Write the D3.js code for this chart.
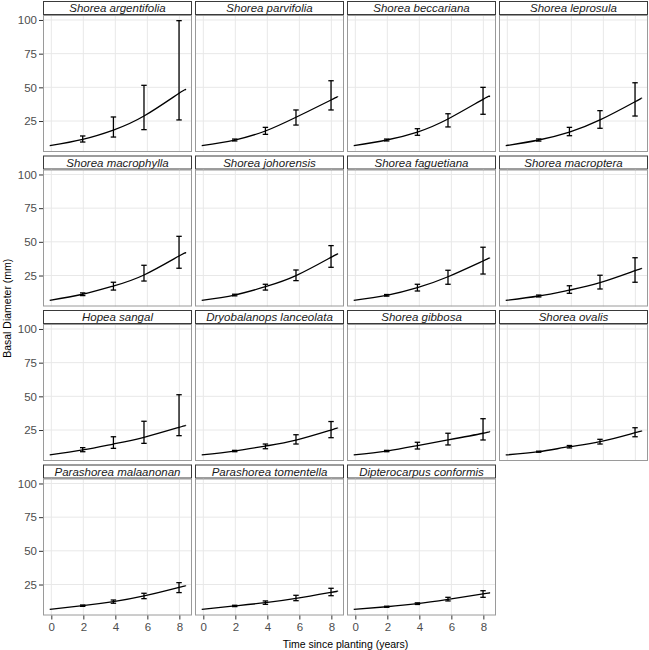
<!DOCTYPE html>
<html><head><meta charset="utf-8">
<script src="https://cdn.jsdelivr.net/npm/d3@7"></script>
<style>body{margin:0;background:#fff}svg{display:block}</style>
</head><body><svg id="c" width="649" height="650"></svg>
<script>
const species = ["Shorea argentifolia","Shorea parvifolia","Shorea beccariana","Shorea leprosula",
"Shorea macrophylla","Shorea johorensis","Shorea faguetiana","Shorea macroptera",
"Hopea sangal","Dryobalanops lanceolata","Shorea gibbosa","Shorea ovalis",
"Parashorea malaanonan","Parashorea tomentella","Dipterocarpus conformis"];
const obsTimes = [1.96, 3.88, 5.79, 7.98];
const curveX = [-0.1, 1.96, 3.88, 5.79, 7.98, 8.37];
const curveY = [
[6.7,11.4,18.3,28.7,45.6,48],
[6.7,10.9,17.6,27.8,40.6,43],
[6.7,10.9,16.8,26.5,41.1,43],
[6.7,10.9,16.8,25.8,39.3,41.9],
[6.6,11.1,17.2,25.4,39.5,41.5],
[6.6,10.5,16.7,24.9,38.5,40.8],
[6.6,10.3,16,24.1,35.8,37.8],
[6.6,9.8,14.2,19.7,28.6,30],
[6.5,10.2,14.6,19.6,27,28.3],
[6.5,9.4,13.1,17.5,25,26.3],
[6.5,9.4,13.4,17.6,22.6,24],
[6.5,8.9,12.6,16.3,23,24],
[6.6,9.3,12.3,16.5,22.9,23.9],
[6.6,9.1,11.5,14.7,19.2,20],
[6.6,8.5,10.8,14,18,18.7]];
const errLo = [
[9.4,13.1,18.6,25.8],[10.2,15.1,22,33.2],[10.2,14.4,20.6,30],[10.1,14.1,19.6,28.7],
[10.1,14.2,20.9,30.4],[9.9,14.2,21.2,31.1],[9.7,13.5,18.5,26.1],[9.1,11.8,15,20],
[8.9,11.4,15.1,20.8],[8.9,11.1,14.6,19.3],[8.9,10.9,13.9,17.6],[8.5,11.7,14.6,20],
[8.8,11.1,14.5,19],[8.6,10.3,13,16.7],[8.1,10.2,12.8,15.5]];
const errHi = [
[13.9,28,51.5,99.5],[11.6,20.3,33.2,54.9],[11.6,19.3,30.4,50],[11.7,20.3,32.7,53.4],
[12.1,20,32.6,54.1],[11.1,18.5,29.1,47.2],[10.9,18.5,28.9,46],[10.5,17.4,25.2,38.2],
[11.9,20,31.5,51.2],[9.9,14.6,21.5,31.3],[9.9,15.9,22.6,33.4],[9.3,13.5,18.1,26.7],
[9.8,13.5,18.5,26.4],[9.6,12.8,17,22.2],[8.9,11.4,15.5,20.4]];
const xTicks = [0,2,4,6,8];
const yTicks = [25,50,75,100];

const svg = d3.select("#c");
const font = "'Liberation Sans', Arial, Helvetica, sans-serif";
const left0 = 43, colStep = 152, pw = 149;
const top0 = 1, rowStep = 154.5, stripH = 14, ph = 137;
const nCol = 4;
const x = d3.scaleLinear().domain([-0.52, 8.79]).range([0, pw]);
const y = d3.scaleLinear().domain([2, 103.7]).range([ph, 0]);
const line = d3.line().x(d => x(d[0])).y(d => y(d[1])).curve(d3.curveNatural);
const nRows = Math.ceil(species.length / nCol);
const lastRow = nRows - 1;

species.forEach((name, i) => {
  const col = i % nCol, row = Math.floor(i / nCol);
  const px = left0 + col * colStep;
  const sy = top0 + row * rowStep;
  const py = sy + stripH;
  // strip
  svg.append("rect").attr("x", px + 0.5).attr("y", sy + 0.5).attr("width", pw - 1).attr("height", stripH - 1)
    .attr("fill", "#fff").attr("stroke", "#3a3a3a").attr("stroke-width", 1);
  svg.append("text").attr("x", px + pw / 2).attr("y", sy + stripH / 2 + 4)
    .attr("text-anchor", "middle").attr("font-family", font).attr("font-style", "italic")
    .attr("font-size", 11.5).attr("fill", "#1a1a1a").text(name);
  const g = svg.append("g").attr("transform", `translate(${px},${py})`);
  // grid
  g.selectAll(".gx").data(xTicks).join("line").attr("x1", d => x(d)).attr("x2", d => x(d))
    .attr("y1", 0).attr("y2", ph).attr("stroke", "#e8e8e8").attr("stroke-width", 1);
  g.selectAll(".gy").data(yTicks).join("line").attr("y1", d => y(d)).attr("y2", d => y(d))
    .attr("x1", 0).attr("x2", pw).attr("stroke", "#e8e8e8").attr("stroke-width", 1);
  // curve
  g.append("path").datum(curveX.map((cx, k) => [cx, curveY[i][k]])).attr("d", line)
    .attr("fill", "none").attr("stroke", "#000").attr("stroke-width", 1.3);
  // error bars
  const cap = 0.17;
  obsTimes.forEach((t, k) => {
    const lo = errLo[i][k], hi = errHi[i][k];
    g.append("line").attr("x1", x(t)).attr("x2", x(t)).attr("y1", y(lo)).attr("y2", y(hi))
      .attr("stroke", "#000").attr("stroke-width", 1.3);
    [lo, hi].forEach(v => g.append("line").attr("x1", x(t - cap)).attr("x2", x(t + cap))
      .attr("y1", y(v)).attr("y2", y(v)).attr("stroke", "#000").attr("stroke-width", 1.3));
  });
  // border
  g.append("rect").attr("x", 0.5).attr("y", 0.5).attr("width", pw - 1).attr("height", ph - 1)
    .attr("fill", "none").attr("stroke", "#9a9a9a").attr("stroke-width", 1);
  // y axis on first column
  if (col === 0) {
    const ya = g.append("g").call(d3.axisLeft(y).tickValues(yTicks).tickSize(4).tickPadding(2));
    ya.select(".domain").remove();
    ya.selectAll("line").attr("stroke", "#333");
    ya.selectAll("text").attr("font-family", font).attr("font-size", 11.5).attr("fill", "#4d4d4d");
  }
  // x axis only on bottom row
  if (row === lastRow) {
    const xa = g.append("g").attr("transform", `translate(0,${ph})`)
      .call(d3.axisBottom(x).tickValues(xTicks).tickSize(4).tickPadding(3));
    xa.select(".domain").remove();
    xa.selectAll("line").attr("stroke", "#333");
    xa.selectAll("text").attr("font-family", font).attr("font-size", 11.5).attr("fill", "#4d4d4d");
  }
});
// axis titles
const bottomY = top0 + lastRow * rowStep + stripH + ph;
svg.append("text").attr("x", left0 + (nCol * colStep - 3) / 2).attr("y", bottomY + 32)
  .attr("text-anchor", "middle").attr("font-family", font).attr("font-size", 10.5).attr("fill", "#000")
  .text("Time since planting (years)");
svg.append("text").attr("transform", `translate(11,${(top0 + bottomY) / 2}) rotate(-90)`)
  .attr("text-anchor", "middle").attr("font-family", font).attr("font-size", 10.5).attr("fill", "#000")
  .text("Basal Diameter (mm)");
</script></body></html>
